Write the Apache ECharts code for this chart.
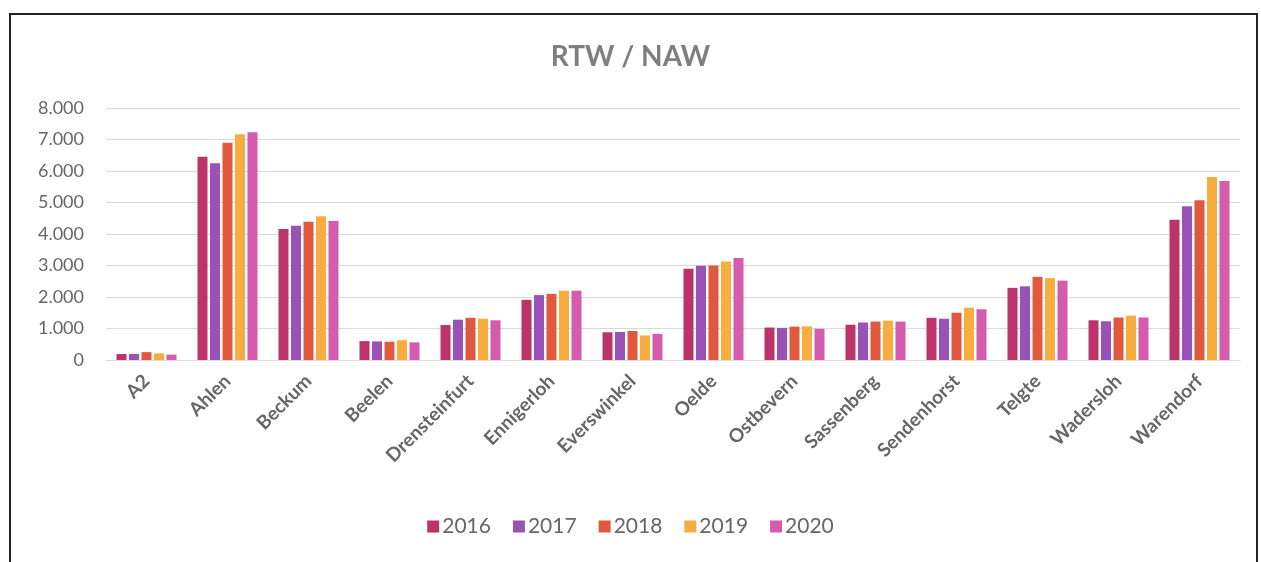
<!DOCTYPE html>
<html>
<head>
<meta charset="utf-8">
<script src="https://cdn.jsdelivr.net/npm/echarts@6/dist/echarts.min.js"></script>
<style>
  html, body { margin: 0; padding: 0; background: #fff; }
  #chart { width: 1261px; height: 562px; }
</style>
</head>
<body>
<div id="chart"></div>
<script>
const orte = ['A2', 'Ahlen', 'Beckum', 'Beelen', 'Drensteinfurt', 'Ennigerloh', 'Everswinkel',
    'Oelde', 'Ostbevern', 'Sassenberg', 'Sendenhorst', 'Telgte', 'Wadersloh', 'Warendorf'];
const jahre = ['2016', '2017', '2018', '2019', '2020'];

const werte2016 = [190, 6450, 4160, 600, 1110, 1910, 880, 2900, 1030, 1120, 1340, 2290, 1260, 4450];
const werte2017 = [190, 6250, 4260, 590, 1280, 2060, 890, 2990, 1020, 1190, 1310, 2340, 1230, 4880];
const werte2018 = [250, 6900, 4390, 580, 1340, 2100, 920, 3000, 1060, 1220, 1500, 2640, 1350, 5070];
const werte2019 = [210, 7170, 4560, 630, 1310, 2200, 780, 3130, 1070, 1250, 1660, 2600, 1410, 5810];
const werte2020 = [170, 7230, 4410, 560, 1260, 2200, 830, 3240, 990, 1220, 1610, 2520, 1350, 5680];

const yTicks = ['0', '1.000', '2.000', '3.000', '4.000', '5.000', '6.000', '7.000', '8.000'];

const farben = ['#bb3369', '#9b52b6', '#e0583d', '#f7ae3e', '#d45bae'];
const alleWerte = [werte2016, werte2017, werte2018, werte2019, werte2020];

const myChart = echarts.init(document.getElementById('chart'));

const option = {
    backgroundColor: '#fff',
    textStyle: { fontFamily: 'Lato' },
    title: {
        text: 'RTW / NAW',
        left: 'center',
        top: 38,
        textStyle: { color: '#7f7f7f', fontSize: 28, fontWeight: 'bold', fontFamily: 'Lato' },
    },
    graphic: [{
        type: 'rect',
        shape: { x: 10, y: 14, width: 1247, height: 600 },
        style: { fill: 'none', stroke: '#222', lineWidth: 2 },
        silent: true,
    }],
    legend: {
        bottom: 20,
        left: 'center',
        icon: 'rect',
        itemWidth: 12,
        itemHeight: 12,
        itemGap: 22,
        textStyle: { color: '#666', fontSize: 21, padding: [0, 0, 0, -2] },
        data: jahre,
    },
    grid: {
        left: 106,
        right: 21,
        top: 108,
        bottom: 202,
    },
    xAxis: {
        type: 'category',
        data: orte,
        axisTick: { show: false },
        axisLine: { lineStyle: { color: '#d9d9d9' } },
        axisLabel: {
            rotate: 45,
            interval: 0,
            color: '#666',
            fontSize: 19,
            fontWeight: 'bold',
            margin: 18,
        },
    },
    yAxis: {
        type: 'value',
        min: 0,
        max: 8000,
        interval: 1000,
        axisLine: { show: false },
        axisTick: { show: false },
        splitLine: { lineStyle: { color: '#d9d9d9' } },
        axisLabel: {
            color: '#666',
            fontSize: 18,
            margin: 22,
            formatter: function (v) { return yTicks[Math.round(v / 1000)]; },
        },
    },
    series: jahre.map(function (j, i) {
        return {
            name: j,
            type: 'bar',
            data: alleWerte[i],
            barWidth: 10,
            barGap: '25%',
            itemStyle: { color: farben[i] },
        };
    }),
};

option && myChart.setOption(option);
</script>
</body>
</html>
